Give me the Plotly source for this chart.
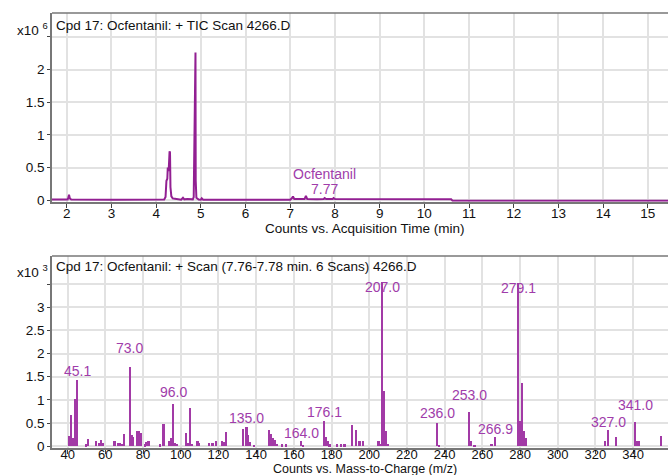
import plotly.graph_objects as go

# ---------------- Data ----------------
# TIC chromatogram (time in min, counts x10^6)
tic_time = [1.67, 2.02, 2.04, 2.05, 2.07, 2.10, 3.0, 4.0, 4.18, 4.21, 4.23, 4.25, 4.26, 4.27,
            4.28, 4.29, 4.30, 4.31, 4.32, 4.34, 4.37, 4.42, 4.50, 4.56, 4.60, 4.63, 4.70, 4.76,
            4.82, 4.84, 4.85, 4.86, 4.865, 4.87, 4.88, 4.885, 4.90, 4.95, 5.00, 5.02, 5.05,
            6.0, 7.00, 7.04, 7.06, 7.09, 7.20, 7.32, 7.35, 7.38, 7.60, 7.75, 7.77, 7.80,
            7.95, 7.97, 8.00, 9.0, 10.0, 10.60, 10.63, 12.0, 14.0, 15.45]
tic_counts = [0.012, 0.012, 0.05, 0.085, 0.03, 0.012, 0.010, 0.010, 0.012, 0.05, 0.30, 0.33,
              0.50, 0.48, 0.45, 0.70, 0.75, 0.73, 0.20, 0.06, 0.03, 0.025, 0.012, 0.01, 0.04,
              0.015, 0.02, 0.015, 0.015, 0.05, 0.68, 0.68, 1.2, 2.26, 2.26, 0.3, 0.04, 0.012,
              0.01, 0.03, 0.01, 0.008, 0.01, 0.035, 0.06, 0.02, 0.015, 0.02, 0.07, 0.02, 0.015,
              0.02, 0.035, 0.02, 0.02, 0.035, 0.02, 0.015, 0.015, 0.015, -0.005, -0.005,
              -0.005, -0.005]
tic_peak_time = 7.77
tic_peak_name = "Ocfentanil"

# Mass spectrum (m/z, counts x10^3)
ms_mz = [41, 42, 43, 44, 44.4, 45.1, 50, 51, 55, 57, 58, 59, 65, 67, 68, 69, 70, 73, 74, 75,
         77, 78, 79, 81, 82, 83, 89, 91, 94, 95, 96, 97, 98, 103, 104, 105, 106, 109, 110,
         115, 117, 119, 122, 123, 124, 133, 135, 136, 137, 139, 147, 148, 149, 150, 151,
         154, 156, 164, 165, 176.1, 177, 178, 179, 183, 185, 187, 191, 193, 195, 197, 205,
         206, 207, 208, 209, 210, 236, 237, 253, 254, 256, 265, 266.9, 279.1, 280, 281, 282,
         283, 325, 327, 331, 341, 342, 343, 355]
ms_counts = [0.22, 0.68, 0.18, 1.02, 1.02, 1.42, 0.04, 0.15, 0.12, 0.06, 0.14, 0.06, 0.12,
             0.07, 0.07, 0.05, 0.27, 1.70, 0.24, 0.19, 0.33, 0.33, 0.28, 0.04, 0.08, 0.11,
             0.04, 0.48, 0.12, 0.17, 0.90, 0.07, 0.05, 0.29, 0.06, 0.82, 0.05, 0.11, 0.06,
             0.06, 0.06, 0.11, 0.12, 0.09, 0.30, 0.38, 0.42, 0.25, 0.09, 0.03, 0.35, 0.27,
             0.17, 0.13, 0.05, 0.04, 0.04, 0.12, 0.03, 0.54, 0.20, 0.11, 0.04, 0.04, 0.04,
             0.04, 0.46, 0.35, 0.10, 0.12, 0.12, 0.05, 3.55, 1.18, 0.32, 0.05, 0.49, 0.03,
             0.74, 0.12, 0.03, 0.05, 0.20, 3.52, 0.54, 1.36, 0.33, 0.17, 0.10, 0.35, 0.20,
             0.53, 0.10, 0.12, 0.22]
ms_labels = [45.1, 73.0, 96.0, 135.0, 164.0, 176.1, 207.0, 236.0, 253.0, 266.9, 279.1, 327.0, 341.0]

top_xticks = list(range(2, 16))
bot_xticks = list(range(40, 360, 20))
top_yticks = [0, 0.5, 1, 1.5, 2]
bot_yticks = [0, 0.5, 1, 1.5, 2, 2.5, 3]
top_ymax_grid = 2.5
bot_ymax_grid = 3.5

top_header = "Cpd 17: Ocfentanil: + TIC Scan 4266.D"
bot_header = "Cpd 17: Ocfentanil: + Scan (7.76-7.78 min. 6 Scans) 4266.D"
top_xtitle = "Counts vs. Acquisition Time (min)"
bot_xtitle = "Counts vs. Mass-to-Charge (m/z)"

# ---------------- Style / layout ----------------
W, H = 668, 483          # rendered height (captured area is slightly taller than 475)
REF_H = 475              # reference picture height used for pixel placement
FONT = "Liberation Sans, Arial, sans-serif"
LINE_C = "#921f92"
BAR_C = "#a23aa6"
LBL_C = "#a03caa"
GRID_C = "#e2e2e2"
FRAME_C = "#777777"

left_px = 52
top_panel = (13, 201)     # pixel top, bottom (reference picture)
bot_panel = (255, 446)


def px_x(px):
    return px / W


def px_y(px):
    return 1 - px / REF_H


# label offsets (pixels above bar top) for mass spectrum labels
label_shift = [9, 19, 12, 9, 8, 9, -5, 10, 17, 8, -5, 8, 17]

fig = go.Figure()

fig.add_trace(go.Scatter(x=tic_time, y=tic_counts, mode="lines",
                         line=dict(color=LINE_C, width=2),
                         xaxis="x", yaxis="y", showlegend=False, hoverinfo="skip"))

fig.add_trace(go.Bar(x=ms_mz, y=ms_counts, width=0.9,
                     marker=dict(color=BAR_C, line=dict(width=0)),
                     xaxis="x2", yaxis="y2", showlegend=False, hoverinfo="skip"))

axis_common = dict(showgrid=True, gridcolor=GRID_C, gridwidth=1.5, zeroline=False,
                   showline=True, linecolor=FRAME_C, linewidth=1.5,
                   ticks="outside", tickcolor="#444", tickwidth=1.2)
tick_font = dict(family=FONT, size=13.5, color="#111")

xdom = [px_x(left_px), 1]

fig.update_layout(
    width=W, height=H, margin=dict(l=0, r=0, t=0, b=0),
    paper_bgcolor="white", plot_bgcolor="white",
    xaxis=dict(domain=xdom, range=[1.67, 15.45], tickvals=top_xticks, anchor="y",
               ticklen=4, ticklabelstandoff=-6, tickfont=tick_font, **axis_common),
    yaxis=dict(domain=[px_y(top_panel[1]), px_y(top_panel[0])], range=[-0.023, 2.865],
               tickvals=top_yticks, anchor="x", ticklen=3, tickfont=tick_font,
               minor=dict(tickvals=[top_ymax_grid], ticks="outside", ticklen=3,
                          tickcolor="#444", showgrid=True, gridcolor=GRID_C, gridwidth=1.5),
               **axis_common),
    xaxis2=dict(domain=xdom, range=[31.7, 358.5], tickvals=bot_xticks, anchor="y2",
                ticklen=4, ticklabelstandoff=-10, tickfont={**tick_font, "size": 13},
                **axis_common),
    yaxis2=dict(domain=[px_y(bot_panel[1]), px_y(bot_panel[0])], range=[-0.037, 4.106],
                tickvals=bot_yticks, anchor="x2", ticklen=3, tickfont=tick_font,
                minor=dict(tickvals=[bot_ymax_grid], ticks="outside", ticklen=3,
                           tickcolor="#444", showgrid=True, gridcolor=GRID_C, gridwidth=1.5),
                **axis_common),
    bargap=0,
)

shapes = []
# hide gridlines in header bands
shapes.append(dict(type="rect", xref="paper", yref="y", x0=xdom[0] + 0.002, x1=1,
                   y0=top_ymax_grid + 0.01, y1=2.9, fillcolor="white", line=dict(width=0),
                   layer="between"))
shapes.append(dict(type="rect", xref="paper", yref="y2", x0=xdom[0] + 0.002, x1=1,
                   y0=bot_ymax_grid + 0.02, y1=4.2, fillcolor="white", line=dict(width=0),
                   layer="between"))
# top frame borders
for pt in (top_panel[0], bot_panel[0]):
    shapes.append(dict(type="line", xref="paper", yref="paper", x0=xdom[0], x1=1,
                       y0=px_y(pt), y1=px_y(pt), line=dict(color=FRAME_C, width=1.5)))
fig.update_layout(shapes=shapes)

ann = []
hdr_font = dict(family=FONT, size=13.5, color="#111")
ann.append(dict(text=top_header, xref="paper", yref="paper", x=px_x(54), y=px_y(25),
                xanchor="left", yanchor="middle", showarrow=False, font=hdr_font))
ann.append(dict(text=bot_header, xref="paper", yref="paper", x=px_x(54), y=px_y(265),
                xanchor="left", yanchor="middle", showarrow=False, font=hdr_font))
ann.append(dict(text="x10 <sup>6</sup>", xref="paper", yref="paper", x=px_x(50), y=px_y(29),
                xanchor="right", yanchor="middle", showarrow=False, font=hdr_font))
ann.append(dict(text="x10 <sup>3</sup>", xref="paper", yref="paper", x=px_x(50), y=px_y(270),
                xanchor="right", yanchor="middle", showarrow=False, font=hdr_font))
ann.append(dict(text=top_xtitle, xref="paper", yref="paper", x=px_x(365), y=px_y(228),
                xanchor="center", yanchor="middle", showarrow=False, font=hdr_font))
ann.append(dict(text=bot_xtitle, xref="paper", yref="paper", x=px_x(365), y=px_y(467),
                xanchor="center", yanchor="middle", showarrow=False,
                font=dict(family=FONT, size=12.5, color="#111")))

lbl_font = dict(family=FONT, size=14, color=LBL_C)
# TIC peak label
ann.append(dict(text=tic_peak_name, xref="x", yref="y", x=tic_peak_time, y=0.40,
                xanchor="center", yanchor="middle", showarrow=False, font=lbl_font))
ann.append(dict(text=f"{tic_peak_time:.2f}", xref="x", yref="y", x=tic_peak_time, y=0.17,
                xanchor="center", yanchor="middle", showarrow=False, font=lbl_font))

# MS peak labels
for lab, sh in zip(ms_labels, label_shift):
    h = ms_counts[min(range(len(ms_mz)), key=lambda i: abs(ms_mz[i] - lab))]
    ann.append(dict(text=f"{lab:.1f}", xref="x2", yref="y2", x=lab, y=h,
                    xanchor="center", yanchor="middle", yshift=sh, showarrow=False,
                    font=lbl_font))

fig.update_layout(annotations=ann)

# remove the page's default body margin so the figure fills the window exactly
fig.write_html("out.html", config={"displayModeBar": False},
               post_script="document.body.style.margin='0px';"
                           "document.body.style.overflow='hidden';")
